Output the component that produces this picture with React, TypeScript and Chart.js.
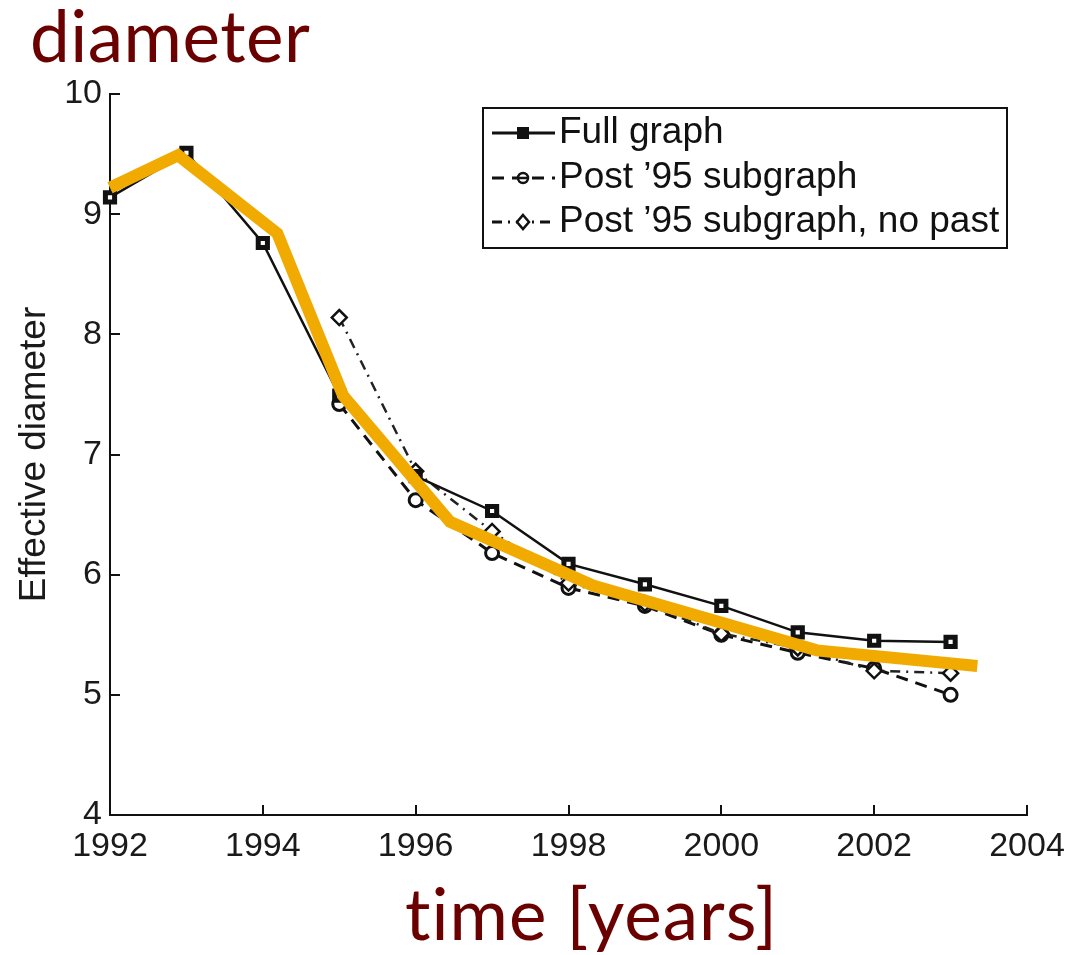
import React, { useEffect, useRef } from "react";
import { Chart, registerables } from "chart.js";

Chart.register(...registerables);

const years = [1992, 1993, 1994, 1995, 1996, 1997, 1998, 1999, 2000, 2001, 2002, 2003];
const fullGraph = [9.14, 9.51, 8.76, 7.49, 6.82, 6.53, 6.09, 5.92, 5.74, 5.52, 5.45, 5.44];
const post95 = [null, null, null, 7.42, 6.62, 6.18, 5.89, 5.74, 5.5, 5.35, 5.22, 5.0];
const post95NoPast = [null, null, null, 8.14, 6.86, 6.36, 5.93, 5.76, 5.51, 5.39, 5.2, 5.18];
const fitYears = [1992, 1992.89, 1994.19, 1995.05, 1996.45, 1998.32, 2001.25, 2003.35];
const fitValues = [9.22, 9.49, 8.84, 7.49, 6.44, 5.91, 5.37, 5.24];
const xTicks = [1992, 1994, 1996, 1998, 2000, 2002, 2004];
const yTicks = [4, 5, 6, 7, 8, 9, 10];

const legendLabels = ["Full graph", "Post \u201995 subgraph", "Post \u201995 subgraph, no past"];

const TICK_FONT = { family: "'Liberation Sans', Arial, sans-serif", size: 34 };
const TITLE_COLOR = "#6a0000";

function toPoints(xs: number[], ys: (number | null)[]) {
  return xs
    .map((x, i) => ({ x, y: ys[i] }))
    .filter((p) => p.y !== null) as { x: number; y: number }[];
}

const inwardTicks = {
  id: "inwardTicks",
  afterDraw(chart: any) {
    const { ctx, chartArea } = chart;
    const xs = chart.scales.x;
    const ys = chart.scales.y;
    ctx.save();
    ctx.strokeStyle = "#111";
    ctx.lineWidth = 2;
    ctx.beginPath();
    xs.ticks.forEach((t: any) => {
      const px = Math.round(xs.getPixelForValue(t.value));
      ctx.moveTo(px, chartArea.bottom);
      ctx.lineTo(px, chartArea.bottom - 10);
    });
    ys.ticks.forEach((t: any) => {
      const py = Math.round(ys.getPixelForValue(t.value));
      ctx.moveTo(chartArea.left, py);
      ctx.lineTo(chartArea.left + 10, py);
    });
    ctx.stroke();
    ctx.restore();
  },
};

function drawMarker(ctx: CanvasRenderingContext2D, style: string, x: number, y: number) {
  ctx.save();
  ctx.fillStyle = "#111";
  ctx.strokeStyle = "#111";
  ctx.lineWidth = 2.5;
  ctx.setLineDash([]);
  ctx.beginPath();
  if (style === "rect") {
    ctx.fillRect(x - 6, y - 6, 12, 12);
  } else if (style === "circle") {
    ctx.arc(x, y, 5, 0, Math.PI * 2);
    ctx.fillStyle = "#fff";
    ctx.fill();
    ctx.stroke();
    ctx.beginPath();
    ctx.moveTo(x - 4, y);
    ctx.lineTo(x + 4, y);
    ctx.stroke();
  } else {
    ctx.moveTo(x, y - 7);
    ctx.lineTo(x + 6, y);
    ctx.lineTo(x, y + 7);
    ctx.lineTo(x - 6, y);
    ctx.closePath();
    ctx.fillStyle = "#fff";
    ctx.fill();
    ctx.stroke();
  }
  ctx.restore();
}

const boxLegend = {
  id: "boxLegend",
  afterDraw(chart: any) {
    const ctx: CanvasRenderingContext2D = chart.ctx;
    const bx = 483, by = 108, bw = 524, bh = 140;
    ctx.save();
    ctx.fillStyle = "#fff";
    ctx.fillRect(bx, by, bw, bh);
    ctx.strokeStyle = "#111";
    ctx.lineWidth = 2;
    ctx.strokeRect(bx, by, bw, bh);
    const rows = [133, 178, 222];
    legendLabels.forEach((label, i) => {
      const ds = chart.data.datasets.find((d: any) => d.label === label);
      if (!ds) return;
      const y = rows[i];
      ctx.save();
      ctx.strokeStyle = "#111";
      ctx.lineWidth = 3;
      ctx.setLineDash(ds.borderDash || []);
      ctx.beginPath();
      ctx.moveTo(492, y);
      ctx.lineTo(555, y);
      ctx.stroke();
      ctx.restore();
      drawMarker(ctx, ds.pointStyle, 523, y);
      ctx.fillStyle = "#111";
      ctx.font = `37px ${TICK_FONT.family}`;
      ctx.textBaseline = "middle";
      ctx.textAlign = "left";
      ctx.fillText(label, 559, y);
    });
    ctx.restore();
  },
};

const titles = {
  id: "titles",
  afterDraw(chart: any) {
    const ctx: any = chart.ctx;
    ctx.save();
    ctx.fillStyle = TITLE_COLOR;
    ctx.font = "71px Lato, 'Open Sans', sans-serif";
    ctx.textBaseline = "alphabetic";
    ctx.textAlign = "left";
    ctx.letterSpacing = "0.5px";
    ctx.fillText("diameter", 30, 62);
    ctx.letterSpacing = "1px";
    ctx.fillText("time [years]", 405, 940);
    ctx.restore();
  },
};

export default function App() {
  const ref = useRef<HTMLCanvasElement | null>(null);

  useEffect(() => {
    document.body.style.margin = "0";
    document.body.style.background = "#fff";
    const canvas = ref.current;
    if (!canvas) return;
    const chart = new Chart(canvas, {
      type: "line",
      data: {
        datasets: [
          {
            label: "fit",
            data: toPoints(fitYears, fitValues),
            borderColor: "#f0aa00",
            borderWidth: 12,
            pointRadius: 0,
            borderJoinStyle: "miter",
            borderCapStyle: "butt",
            order: 0,
            clip: false,
          } as any,
          {
            label: legendLabels[0],
            data: toPoints(years, fullGraph),
            borderColor: "#111",
            borderWidth: 2.5,
            pointStyle: "rect",
            pointRadius: 6.5,
            pointBorderWidth: 5,
            pointBackgroundColor: "#fff",
            pointBorderColor: "#111",
            order: 1,
            clip: false,
          } as any,
          {
            label: legendLabels[1],
            data: toPoints(years, post95),
            borderColor: "#111",
            borderWidth: 3,
            borderDash: [12, 8],
            pointStyle: "circle",
            pointRadius: 6.5,
            pointBorderWidth: 3,
            pointBackgroundColor: "#fff",
            pointBorderColor: "#111",
            order: 3,
            clip: false,
          } as any,
          {
            label: legendLabels[2],
            data: toPoints(years, post95NoPast),
            borderColor: "#222",
            borderWidth: 2.5,
            borderDash: [10, 6, 2, 6],
            pointStyle: "rectRot",
            pointRadius: 7.5,
            pointBorderWidth: 2.5,
            pointBackgroundColor: "#fff",
            pointBorderColor: "#111",
            order: 2,
            clip: false,
          } as any,
        ],
      },
      options: {
        responsive: false,
        animation: false,
        layout: { padding: { top: 94, right: 60, left: 0, bottom: 0 } },
        plugins: {
          legend: { display: false },
          tooltip: { enabled: false },
          title: { display: false },
        },
        scales: {
          x: {
            type: "linear",
            min: 1992,
            max: 2004,
            afterFit: (s: any) => {
              s.height = 140;
            },
            afterBuildTicks: (s: any) => {
              s.ticks = xTicks.map((v) => ({ value: v }));
            },
            ticks: {
              font: TICK_FONT,
              color: "#1a1a1a",
              padding: 11,
              maxRotation: 0,
              autoSkip: false,
              callback: (v: any) => String(v),
            },
            grid: { display: false, drawTicks: false },
            border: { display: true, color: "#111", width: 2 },
          },
          y: {
            type: "linear",
            min: 4,
            max: 10,
            afterFit: (s: any) => {
              s.width = 110;
            },
            afterBuildTicks: (s: any) => {
              s.ticks = yTicks.map((v) => ({ value: v }));
            },
            ticks: {
              font: TICK_FONT,
              color: "#1a1a1a",
              padding: 8,
              autoSkip: false,
              callback: (v: any) => String(v),
            },
            title: {
              display: true,
              text: "Effective diameter",
              color: "#1a1a1a",
              font: { family: TICK_FONT.family, size: 37 },
              padding: { top: 13, bottom: 0 },
            },
            grid: { display: false, drawTicks: false },
            border: { display: true, color: "#111", width: 2 },
          },
        },
      },
      plugins: [inwardTicks, boxLegend, titles],
    });
    return () => chart.destroy();
  }, []);

  return (
    <div style={{ width: 1087, height: 955, background: "#fff" }}>
      <canvas ref={ref} width={1087} height={955} style={{ display: "block" }} />
    </div>
  );
}
